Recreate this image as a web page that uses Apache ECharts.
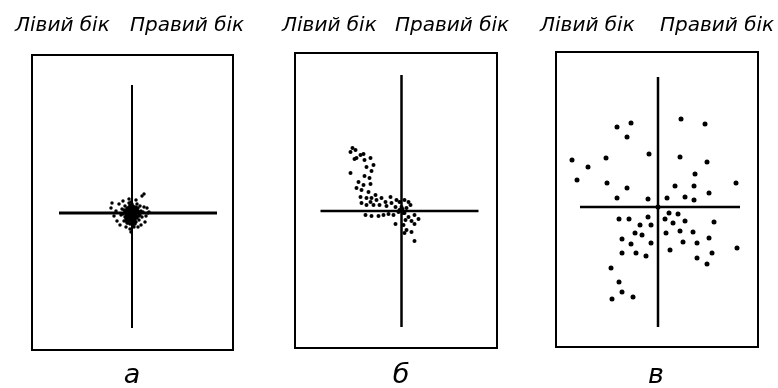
<!DOCTYPE html>
<html><head><meta charset="utf-8">
<script src="https://cdn.jsdelivr.net/npm/echarts@6/dist/echarts.min.js"></script>
<style>html,body{margin:0;padding:0;background:#fff}#c{width:778px;height:388px}</style>
</head><body><div id="c"></div>
<script>
// Panel captions and side labels
const panelLabels = ['а', 'б', 'в'];
const sideLabels = ['Лівий бік', 'Правий бік'];

// Scatter points (x: left<0<right, y: down<0<up)
const pointsA = [
  [0,0],[2,1],[-2,1],[1,-2],[-1,-3],[3,3],[-3,-1],[4,-1],[-4,2],[0,4],[0,-5],[5,2],[-5,-3],[2,5],[-2,-6],
  [6,-3],[-6,1],[3,-7],[-3,6],[7,1],[-7,-4],[1,7],[-1,-8],[5,-5],[-5,5],[8,-2],[-8,3],[4,6],[-4,-7],[6,5],
  [-6,-6],[2,-9],[-2,8],[9,2],[-9,-1],[0,9],[3,-11],[-3,10],[7,-7],[-7,7],[10,-4],[-10,4],[5,9],[-5,-10],
  [11,1],[-11,-2],[1,-12],[-1,11],[8,7],[-8,-8],[1,1],[-1,-1],[3,-3],[-3,3],[2,-4],[-2,3],[4,1],[-4,-2],
  [0,2],[2,-1],[-2,-2],[3,0],[-3,0],[1,3],[-1,4],[1,-4],[-1,-5],[4,3],[-4,4],[4,-3],[-4,-4],[5,0],[-5,0],
  [6,2],[-6,3],[6,-1],[-6,-2],[2,6],[-2,5],[3,-5],[-3,-4],[1,-6],[-1,6],[5,4],[-5,-5],[7,-3],[-7,1],
  [0,-7],[-3,-8],[2,-8],[-6,-8],[4,-9],[-4,-10],[0,-10],[-2,-11],
  [10,17],[12,19],[-20,10],[-21,5],[-18,-3],[-15,-8],[-13,9],[14,-3],[16,0],[13,-9],[9,-12],[-2,-16],
  [-1,-19],[2,-14],[-6,-14],[6,-14],[-12,-12],[-16,2],[12,6],[-9,12],[-3,14],[4,13],[15,5],[17,1]
];
const pointsB = [
  [-49,63],[-46,61],[-51,59],[-45,53],[-47,52],[-41,56],[-38,57],[-37,51],[-35,44],[-31,53],[-28,46],
  [-30,40],[-51,38],[-37,35],[-32,33],[-43,29],[-38,26],[-31,27],[-45,23],[-40,21],[-33,19],[-41,14],
  [-35,13],[-30,13],[-26,16],[-31,9],[-25,11],[-20,13],[-11,14],[-16,9],[-40,8],[-35,6],[-28,6],[-22,6],
  [-15,5],[-10,8],[-5,11],[-2,9],[3,11],[7,9],[9,6],[-6,4],[0,4],[5,3],[-36,-4],[-30,-5],[-23,-5],
  [-18,-4],[-13,-3],[-8,-4],[-3,-1],[3,-2],[7,-6],[13,-4],[4,-9],[10,-10],[-6,-13],[2,-14],[13,-13],
  [5,-19],[10,-21],[3,-22],[13,-30],[17,-8],[0,0],[2,-2],[-2,1],[1,2]
];
const pointsC = [
  [-41,80],[-27,84],[-31,70],[-86,47],[-70,40],[-52,49],[-9,53],[-81,27],[-51,24],[-31,19],[-41,9],
  [-10,8],[23,88],[47,83],[22,50],[49,45],[37,33],[78,24],[17,21],[36,21],[51,14],[9,9],[27,10],[36,7],
  [-39,-12],[-29,-12],[-10,-10],[-18,-18],[-7,-18],[-23,-26],[-16,-28],[-36,-32],[-27,-37],[-7,-36],
  [-36,-46],[-22,-46],[-12,-49],[-47,-61],[-39,-75],[-36,-85],[-46,-92],[-25,-90],[11,-6],[20,-7],
  [7,-12],[15,-16],[27,-14],[56,-15],[8,-26],[22,-24],[35,-25],[51,-31],[25,-35],[39,-36],[12,-43],
  [54,-46],[79,-41],[39,-51],[49,-57],[0,0]
];

// Cross arms: [left, right, bottom, top]
const crossA = [-73, 85, -115, 128];
const crossB = [-81, 77, -116, 136];
const crossC = [-78, 82, -120, 130];

const panels = [
  { pts: pointsA, cross: crossA, grid: {left: 32, top: 55, width: 201, height: 295}, x: [-100, 101], y: [-137, 158], size: 3.5, hw: 3, vw: 2, cap: 132, side: [15, 130] },
  { pts: pointsB, cross: crossB, grid: {left: 295, top: 53, width: 202, height: 295}, x: [-106.5, 95.5], y: [-137, 158], size: 4, hw: 2.5, vw: 2.5, cap: 401, side: [282, 395] },
  { pts: pointsC, cross: crossC, grid: {left: 556, top: 52, width: 202, height: 295}, x: [-102, 100], y: [-140, 155], size: 5, hw: 2.5, vw: 2.5, cap: 656, side: [540, 660] }
];

const grids = [], xAxes = [], yAxes = [], series = [], graphics = [];
panels.forEach((p, i) => {
  grids.push(Object.assign({ show: true, borderColor: '#000', borderWidth: 2, backgroundColor: 'transparent' }, p.grid));
  xAxes.push({ type: 'value', gridIndex: i, min: p.x[0], max: p.x[1], show: false });
  yAxes.push({ type: 'value', gridIndex: i, min: p.y[0], max: p.y[1], show: false });
  series.push({ type: 'line', xAxisIndex: i, yAxisIndex: i, data: [[p.cross[0], 0], [p.cross[1], 0]], showSymbol: false, symbol: 'none', lineStyle: { color: '#000', width: p.hw }, silent: true, z: 2 });
  series.push({ type: 'line', xAxisIndex: i, yAxisIndex: i, data: [[0, p.cross[2]], [0, p.cross[3]]], showSymbol: false, symbol: 'none', lineStyle: { color: '#000', width: p.vw }, silent: true, z: 2 });
  series.push({ type: 'scatter', xAxisIndex: i, yAxisIndex: i, data: p.pts, symbol: 'circle', symbolSize: p.size, itemStyle: { color: '#000', opacity: 1 }, silent: true, z: 3 });
  sideLabels.forEach((t, k) => {
    graphics.push({ type: 'text', x: p.side[k], y: 26, style: { text: t, font: 'italic 20px "DejaVu Sans"', fill: '#000', align: 'left', verticalAlign: 'middle' } });
  });
  graphics.push({ type: 'text', x: p.cap, y: 376, style: { text: panelLabels[i], font: 'italic 27px "DejaVu Sans"', fill: '#000', align: 'center', verticalAlign: 'middle' } });
});

const chart = echarts.init(document.getElementById('c'), null, { renderer: 'canvas' });
chart.setOption({
  animation: false,
  backgroundColor: '#fff',
  grid: grids,
  xAxis: xAxes,
  yAxis: yAxes,
  series: series,
  graphic: graphics
});
</script>
</body></html>
